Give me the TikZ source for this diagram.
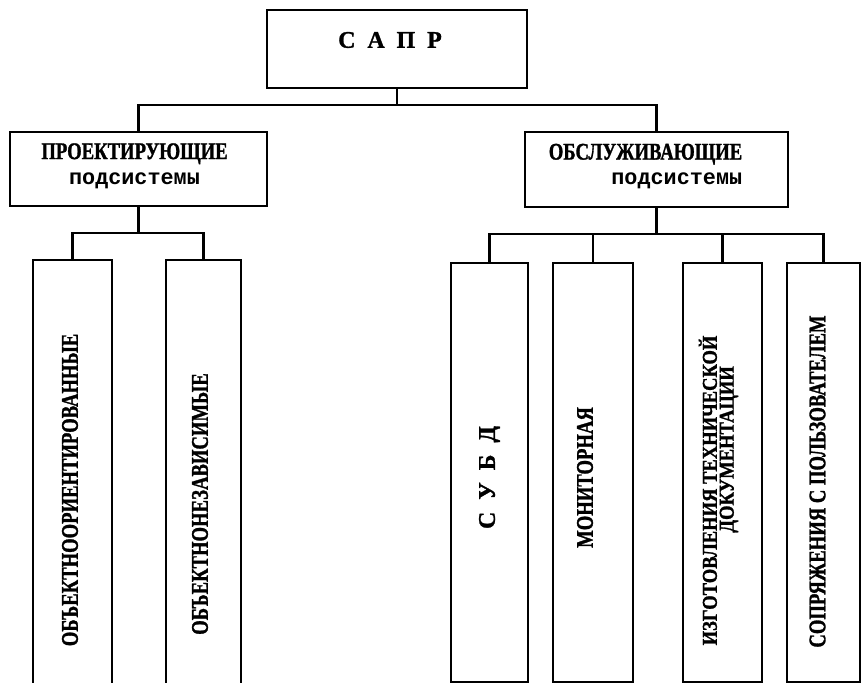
\documentclass[tikz,border=0pt]{standalone}
\usepackage{fontspec}
\setmainfont{Liberation Serif}
\setmonofont{Liberation Mono}
\newfontfamily\condfont[FakeStretch=0.78, FakeBold=1.2]{Liberation Serif}
\newfontfamily\docfont[FakeStretch=0.88, FakeBold=1.2]{Liberation Serif}
\newfontfamily\widefont[FakeBold=1.2]{Liberation Serif}
\tikzset{
	block/.style={draw, line width=1.8pt},
	link/.style={line width=1.8pt},
	caps/.style={font=\condfont\bfseries\fontsize{17}{18}\selectfont},
	spaced/.style={font=\widefont\bfseries\fontsize{17}{18}\selectfont}
}

\begin{document}
\begin{tikzpicture}[x=0.025cm, y=-0.025cm]
		\useasboundingbox (0,0) rectangle (864,683);
		
		\node[block, minimum width=6.5cm, minimum height=1.95cm] (sapr) at (397,49) {};
		\node[spaced] (saprtext) at ([shift={(-7,-9)}]sapr) {С\ \ А\ \ П\ \ Р};
		
		\node[block, minimum width=6.425cm, minimum height=1.85cm] (proj) at (138.5,169) {};
		\node[caps, align=center] (projtext) at ([shift={(-4,-3)}]proj) {ПРОЕКТИРУЮЩИЕ\\{\ttfamily\fontsize{15.5}{18}\selectfont подсистемы}};
		
		\node[block, minimum width=6.575cm, minimum height=1.875cm] (serv) at (656.5,169.5) {};
		\node[caps, align=right] (servtext) at ([shift={(-11,-3)}]serv) {ОБСЛУЖИВАЮЩИЕ\\{\ttfamily\fontsize{15.5}{18}\selectfont подсистемы}};
		
		% left branch (cut off at the bottom)
		\node[block, minimum width=1.975cm, minimum height=10.6cm] (oo) at (72.5,472) {};
		\node[caps, rotate=90] (ootext) at ([shift={(-2.5,18)}]oo) {ОБЪЕКТНООРИЕНТИРОВАННЫЕ};
		
		\node[block, minimum width=1.875cm, minimum height=10.6cm] (oi) at (203.5,472) {};
		\node[caps, rotate=90] (oitext) at ([shift={(-3.5,32)}]oi) {ОБЪЕКТНОНЕЗАВИСИМЫЕ};
		
		% right branch
		\node[block, minimum width=1.925cm, minimum height=10.475cm] (subd) at (489.5,472.5) {};
		\node[spaced, rotate=90] (subdtext) at ([shift={(0,5)}]subd) {С\ \ У\ \ Б\ \ Д};
		
		\node[block, minimum width=2cm, minimum height=10.475cm] (mon) at (593,472.5) {};
		\node[caps, rotate=90] (montext) at ([shift={(-8,5)}]mon) {МОНИТОРНАЯ};
		
		\node[block, minimum width=1.975cm, minimum height=10.475cm] (doc) at (722.5,472.5) {};
		\node[rotate=90, align=center, font=\docfont\bfseries\fontsize{15}{12}\selectfont] (doctext) at ([shift={(-4,18)}]doc) {ИЗГОТОВЛЕНИЯ ТЕХНИЧЕСКОЙ\\\hspace*{2.05cm}ДОКУМЕНТАЦИИ};
		
		\node[block, minimum width=1.825cm, minimum height=10.475cm] (user) at (823.5,472.5) {};
		\node[caps, rotate=90] (usertext) at ([shift={(-6,9)}]user) {СОПРЯЖЕНИЯ С ПОЛЬЗОВАТЕЛЕМ};
		
		% bus lines
		\coordinate (bustop) at (0,105);
		\coordinate (busleft) at (0,233);
		\coordinate (busright) at (0,234);
		
		\draw[link] (sapr.south) -- (sapr.south |- bustop);
		\draw[link] (proj.north) -- (proj.north |- bustop) -- (serv.north |- bustop) -- (serv.north);
		
		\draw[link] (proj.south) -- (proj.south |- busleft);
		\draw[link] (oo.north) -- (oo.north |- busleft) -- (oi.north |- busleft) -- (oi.north);
		
		\draw[link] (serv.south) -- (serv.south |- busright);
		\draw[link] (subd.north) -- (subd.north |- busright) -- (user.north |- busright) -- (user.north);
		\draw[link] (mon.north) -- (mon.north |- busright);
		\draw[link] (doc.north) -- (doc.north |- busright);
	\end{tikzpicture}
\end{document}
